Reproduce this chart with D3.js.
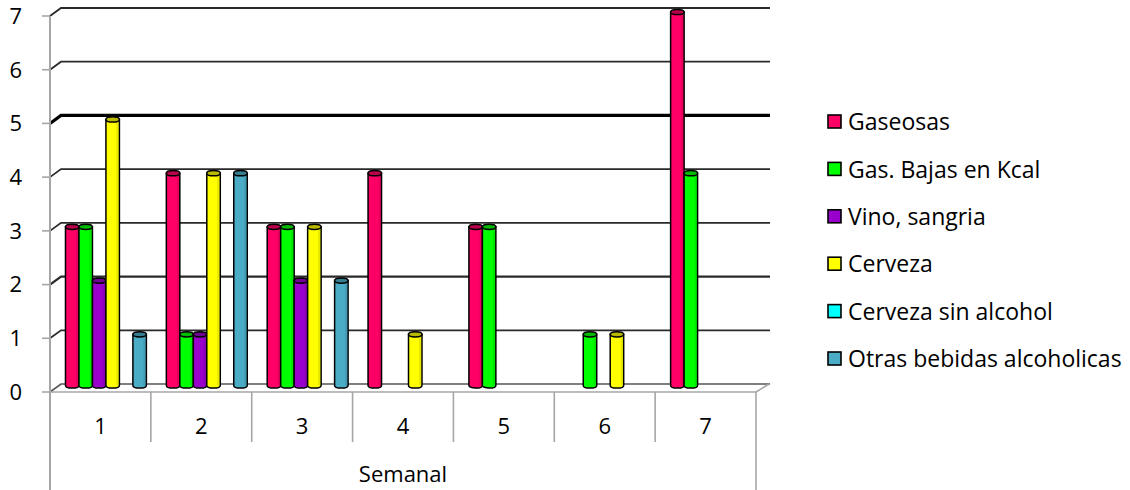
<!DOCTYPE html>
<html>
<head>
<meta charset="utf-8">
<script src="https://cdn.jsdelivr.net/npm/d3@7"></script>
<style>
  html, body { margin: 0; padding: 0; background: #fff; }
  svg { display: block; }
  text { font-family: "Open Sans", "Liberation Sans", sans-serif; fill: #000; }
</style>
</head>
<body>
<svg id="chart" width="1130" height="490"></svg>
<script>
// Weekly consumption counts per drink type
const weeks = ["1", "2", "3", "4", "5", "6", "7"];
const seriesNames = ["Gaseosas", "Gas. Bajas en Kcal", "Vino, sangria", "Cerveza", "Cerveza sin alcohol", "Otras bebidas alcoholicas"];
const gaseosas = [3, 4, 3, 4, 3, 0, 7];
const gasBajas = [3, 1, 3, 0, 3, 1, 4];
const vino = [2, 1, 2, 0, 0, 0, 0];
const cerveza = [5, 4, 3, 1, 0, 1, 0];
const cervezaSin = [0, 0, 0, 0, 0, 0, 0];
const otras = [1, 4, 2, 0, 0, 0, 0];
const yTicks = [0, 1, 2, 3, 4, 5, 6, 7];
const groupLabel = "Semanal";

const seriesValues = [gaseosas, gasBajas, vino, cerveza, cervezaSin, otras];
const colors = ["#FF0066", "#00FF00", "#9900CC", "#FFFF00", "#00FFFF", "#4BACC6"];

const svg = d3.select("#chart");

// plot geometry: front face of the box plus the depth offset of the back wall
const left = 50, right = 756, y0 = 392, yTop = 16;
const depthX = 11, depthY = -8;

const y = d3.scaleLinear().domain([0, 7]).range([y0, yTop]);
const x = d3.scaleBand().domain(weeks).range([left, right]).paddingInner(0).paddingOuter(0);
const xs = d3.scaleBand().domain(d3.range(seriesNames.length)).range([0, x.bandwidth()]).paddingInner(0).paddingOuter(0.74);

const axisGrey = "#A6A6A6";

// gridlines on the back wall, with the slanted join to the front axis
const gridWidth = v => (v === 5 ? 3.2 : v === 2 ? 2.3 : 1.8);
const grid = svg.append("g");
yTicks.forEach(v => {
  const yf = y(v);
  grid.append("path")
    .attr("d", `M${left},${yf} L${left + depthX},${yf + depthY} L${right + depthX + 3},${yf + depthY}`)
    .attr("fill", "none")
    .attr("stroke", v === 0 ? "#555" : (v === 5 ? "#000" : "#2a2a2a"))
    .attr("stroke-width", v === 0 ? 1.6 : gridWidth(v));
});

// floor front edge and its right corner
svg.append("path")
  .attr("d", `M${left},${y0} L${right},${y0} L${right + depthX + 2},${y0 + depthY}`)
  .attr("fill", "none").attr("stroke", axisGrey).attr("stroke-width", 1.6);

// value axis line and ticks
svg.append("line")
  .attr("x1", left).attr("x2", left).attr("y1", yTop).attr("y2", 490)
  .attr("stroke", axisGrey).attr("stroke-width", 2);
svg.append("g").selectAll("line").data(yTicks).join("line")
  .attr("x1", left - 8).attr("x2", left).attr("y1", d => y(d)).attr("y2", d => y(d))
  .attr("stroke", axisGrey).attr("stroke-width", 1.6);
svg.append("g").selectAll("text").data(yTicks).join("text")
  .attr("x", 22).attr("y", d => y(d)).attr("dy", "0.36em")
  .attr("text-anchor", "end").attr("font-size", 22)
  .text(d => d);

// bars drawn as cylinders sitting half way into the depth
const barShiftX = depthX / 2, barShiftY = depthY / 2;
const shade = c => d3.color(c).darker(0.9).formatHex();
const bars = svg.append("g");
weeks.forEach((wk, i) => {
  seriesValues.forEach((vals, s) => {
    const v = vals[i];
    if (!v) return;
    const w = xs.bandwidth();
    const bx = x(wk) + xs(s) + barShiftX;
    const top = y(v) + barShiftY;
    const bottom = y(0) + barShiftY;
    const rx = w / 2, ry = 2.6;
    const g = bars.append("g");
    g.append("path")
      .attr("d", `M${bx},${top} L${bx},${bottom - ry} A${rx},${ry} 0 0 0 ${bx + w},${bottom - ry} L${bx + w},${top} Z`)
      .attr("fill", colors[s]).attr("stroke", "#000").attr("stroke-width", 1.5);
    // soft shading on the right side of the cylinder
    g.append("rect")
      .attr("x", bx + w - 3).attr("y", top).attr("width", 2.2).attr("height", bottom - ry - top)
      .attr("fill", shade(colors[s])).attr("opacity", 0.35);
    g.append("ellipse")
      .attr("cx", bx + rx).attr("cy", top).attr("rx", rx).attr("ry", ry)
      .attr("fill", shade(colors[s])).attr("stroke", "#000").attr("stroke-width", 1.5);
  });
});

// category axis: week labels and separators
const catAxis = svg.append("g");
const bounds = weeks.map(w => x(w)).concat([right]);
bounds.forEach((bx, i) => {
  const outer = i === 0 || i === bounds.length - 1;
  catAxis.append("line")
    .attr("x1", bx).attr("x2", bx).attr("y1", y0).attr("y2", outer ? 490 : 442)
    .attr("stroke", axisGrey).attr("stroke-width", 1.6);
});
catAxis.selectAll("text").data(weeks).join("text")
  .attr("x", d => x(d) + x.bandwidth() / 2).attr("y", 426).attr("dy", "0.36em")
  .attr("text-anchor", "middle").attr("font-size", 22)
  .text(d => d);
catAxis.append("text")
  .attr("x", (left + right) / 2).attr("y", 474).attr("dy", "0.36em")
  .attr("text-anchor", "middle").attr("font-size", 22)
  .text(groupLabel);

// legend
const legend = svg.append("g");
const legendY = d3.scaleLinear().domain([0, seriesNames.length - 1]).range([122, 359]);
seriesNames.forEach((name, s) => {
  const ly = legendY(s);
  legend.append("rect")
    .attr("x", 828).attr("y", ly - 7).attr("width", 13).attr("height", 13)
    .attr("fill", colors[s]).attr("stroke", "#000").attr("stroke-width", 1.6);
  legend.append("text")
    .attr("x", 848).attr("y", ly).attr("dy", "0.36em").attr("font-size", 23)
    .text(name);
});
</script>
</body>
</html>
